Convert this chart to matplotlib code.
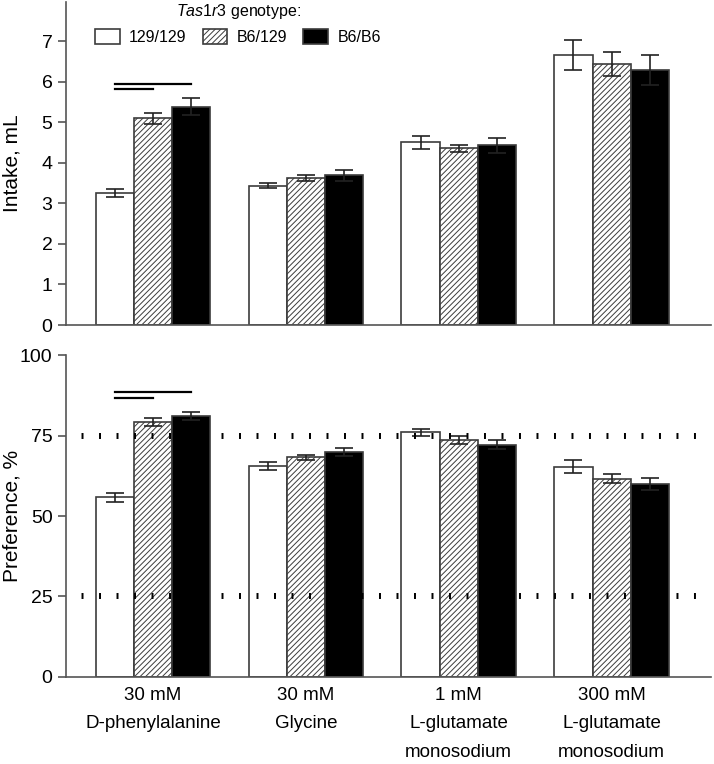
import matplotlib.pyplot as plt
import numpy as np

plt.rcParams['font.family'] = ['Liberation Sans', 'DejaVu Sans']
plt.rcParams['mathtext.fontset'] = 'custom'
plt.rcParams['mathtext.rm'] = 'Liberation Sans'
plt.rcParams['mathtext.it'] = 'Liberation Sans:italic'
plt.rcParams['hatch.linewidth'] = 0.7

# === DATA ===
solutions = ["30 mM\nD-phenylalanine", "30 mM\nGlycine",
             "1 mM\nL-glutamate\nmonosodium", "300 mM\nL-glutamate\nmonosodium"]
genotypes = ["129/129", "B6/129", "B6/B6"]

intake_129 = [3.25, 3.44, 4.51, 6.65]
intake_b6_129 = [5.10, 3.62, 4.36, 6.44]
intake_b6 = [5.38, 3.69, 4.43, 6.30]
intake_err_129 = [0.10, 0.07, 0.16, 0.37]
intake_err_b6_129 = [0.13, 0.07, 0.09, 0.30]
intake_err_b6 = [0.21, 0.13, 0.18, 0.37]

pref_129 = [55.8, 65.6, 76.0, 65.3]
pref_b6_129 = [79.2, 68.2, 73.6, 61.6]
pref_b6 = [81.0, 69.8, 72.2, 60.0]
pref_err_129 = [1.3, 1.2, 1.0, 2.0]
pref_err_b6_129 = [1.1, 0.8, 1.1, 1.5]
pref_err_b6 = [1.2, 1.2, 1.3, 1.8]

ref_levels = [25, 75]
sig_intake = [5.94, 5.81]   # 129/129 vs B6/B6, 129/129 vs B6/129
sig_pref = [88.4, 86.6]

# === STYLE ===
edge = '#3c3c3c'
spine = '#555555'
width = 0.25
styles = [dict(color='white', hatch=None),
          dict(color='white', hatch='//////'),
          dict(color='black', hatch=None)]

fig = plt.figure(figsize=(7.14, 7.64), dpi=100)
ax1 = fig.add_axes([0.0931, 0.5746, 0.9027, 0.4224])
ax2 = fig.add_axes([0.0931, 0.1139, 0.9027, 0.4214])

x = np.arange(len(solutions))
offsets = [-width, 0, width]


def draw_bars(ax, series, errors):
    handles = []
    for off, vals, errs, st, lab in zip(offsets, series, errors, styles, genotypes):
        b = ax.bar(x + off, vals, width, color=st['color'], edgecolor=edge,
                   linewidth=1.2, hatch=st['hatch'], label=lab, zorder=2)
        ax.errorbar(x + off, vals, yerr=errs, fmt='none', ecolor='#222222',
                    elinewidth=1.2, capsize=6.5, capthick=1.2, zorder=3)
        handles.append(b)
    ax.set_xlim(-0.566, 3.65)
    ax.spines['top'].set_visible(False)
    ax.spines['right'].set_visible(False)
    for s in ['left', 'bottom']:
        ax.spines[s].set_color(spine)
        ax.spines[s].set_linewidth(1.2)
    ax.tick_params(axis='y', direction='out', length=6, width=1.2, color=spine,
                   labelsize=14, pad=4)
    ax.tick_params(axis='x', length=0, labelsize=13.5, pad=7)
    return handles


def draw_sig(ax, levels):
    ax.plot([x[0] - width, x[0] + width], [levels[0]] * 2, color='black', lw=1.6, zorder=4)
    ax.plot([x[0] - width, x[0]], [levels[1]] * 2, color='black', lw=1.6, zorder=4)


# === Top: intake ===
h = draw_bars(ax1, [intake_129, intake_b6_129, intake_b6],
              [intake_err_129, intake_err_b6_129, intake_err_b6])
draw_sig(ax1, sig_intake)
ax1.set_ylim(0, 7.96)
ax1.set_yticks(range(0, 8))
ax1.set_xticks([])
ax1.set_ylabel("Intake, mL", fontsize=15)
ax1.yaxis.set_label_coords(-0.07, 0.5)
ax1.legend(handles=h, ncol=3, loc='upper left', bbox_to_anchor=(0.044, 1.0),
           frameon=False, fontsize=11.5, title=r"$\it{Tas1r3}$ genotype:",
           title_fontsize=11.5, handlelength=1.55, handleheight=1.05,
           handletextpad=0.6, columnspacing=1.0, borderpad=0, borderaxespad=0)

# === Bottom: preference ===
draw_bars(ax2, [pref_129, pref_b6_129, pref_b6],
          [pref_err_129, pref_err_b6_129, pref_err_b6])
draw_sig(ax2, sig_pref)
for lvl in ref_levels:
    ax2.axhline(lvl, color='black', lw=4.3, linestyle=(0.33, (0.33, 2.6)),
                dash_capstyle='butt', zorder=5)
ax2.set_ylim(0, 100)
ax2.set_yticks([0, 25, 50, 75, 100])
ax2.set_xticks(x, solutions, linespacing=1.9)
ax2.set_ylabel("Preference, %", fontsize=15)
ax2.yaxis.set_label_coords(-0.07, 0.5)

fig.savefig("out.png", dpi=100)
